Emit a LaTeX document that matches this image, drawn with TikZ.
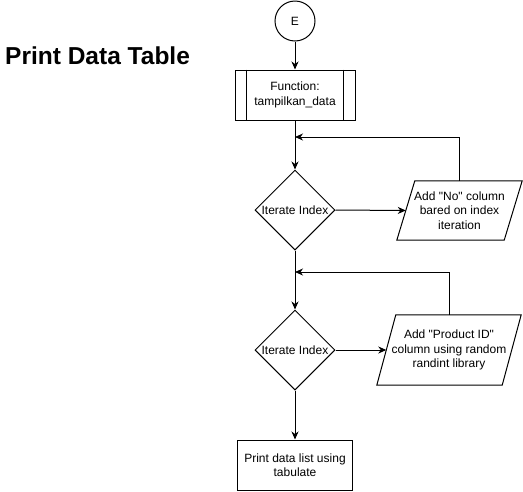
\documentclass[tikz,border=0pt]{standalone}
\usepackage{fontspec}
\setmainfont{Liberation Sans}[Ligatures=TeXOff]
\usetikzlibrary{shapes.geometric,arrows.meta}
\begin{document}
\begin{tikzpicture}[x=1pt,y=-1pt,
  flow/.style={draw=black, line width=1pt, font=\fontsize{12}{14.5}\selectfont, align=center, inner sep=0pt},
  txt/.style={font=\fontsize{12}{14.5}\selectfont, align=center, inner sep=0pt},
  arr/.style={draw=black, line width=1pt, -{Stealth[length=8pt,width=7pt,inset=2.5pt]}},
  edge/.style={draw=black, line width=1pt, line join=miter}]
\useasboundingbox (0,0) rectangle (523,491);

\node[anchor=base west, inner sep=0pt, font=\fontsize{24.5}{28}\selectfont\bfseries] (T) at (5,64) {Print Data Table};

\node[circle, flow, minimum size=40pt] (E) at (295,21) {E};

\node[flow, minimum width=120pt, minimum height=50pt] (F) at (295,95) {Function:\\tampilkan\_data};
\draw[edge] ([xshift=12pt]F.north west) -- ([xshift=12pt]F.south west);
\draw[edge] ([xshift=-12pt]F.north east) -- ([xshift=-12pt]F.south east);

\node[diamond, flow, minimum width=80pt, minimum height=80pt] (D1) at (295,210) {Iterate Index};

\node[txt, minimum width=107pt, minimum height=59pt] (P1) at (459.5,210.5) {Add "No" column\\bared on index\\iteration};
\draw[edge] ([xshift=9pt]P1.north west) -- ([xshift=9pt]P1.north east) -- ([xshift=-9pt]P1.south east) -- ([xshift=-9pt]P1.south west) -- cycle;

\node[diamond, flow, minimum width=80pt, minimum height=80pt] (D2) at (295,350) {Iterate Index};

\node[txt, minimum width=125pt, minimum height=70pt] (P2) at (449,350) {Add "Product ID"\\column using random\\randint library};
\draw[edge] ([xshift=9.5pt]P2.north west) -- ([xshift=9.5pt]P2.north east) -- ([xshift=-9.5pt]P2.south east) -- ([xshift=-9.5pt]P2.south west) -- cycle;

\node[flow, minimum width=115pt, minimum height=50pt] (R) at (295,465) {Print data list using\\tabulate};

\coordinate (J1) at (295,137);
\coordinate (J2) at (295,272);

\draw[arr] (E.south) -- (F.north);
\draw[arr] (F.south) -- (D1.north);
\draw[arr] (D1.east) -- (P1.west);
\draw[arr] (P1.north) |- (J1);
\draw[arr] (D1.south) -- (D2.north);
\draw[arr] (D2.east) -- (P2.west);
\draw[arr] (P2.north) |- (J2);
\draw[arr] (D2.south) -- (R.north);
\end{tikzpicture}
\end{document}
